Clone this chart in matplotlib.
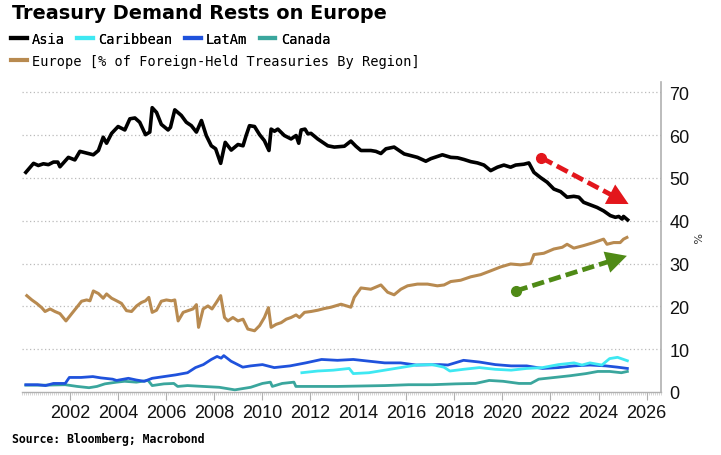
import numpy as np
import matplotlib
matplotlib.use('Agg')
import matplotlib.pyplot as plt
from matplotlib import font_manager
from matplotlib.lines import Line2D
from matplotlib.patches import Polygon

# donnees (annee decimale, % des treasuries detenus a l'etranger)
asia_t = [2000.16, 2000.48, 2000.68, 2000.89, 2001.10, 2001.31, 2001.49, 2001.58, 2001.93, 2002.20,
          2002.41, 2002.76, 2002.97, 2003.18, 2003.38, 2003.52, 2003.73, 2004.00, 2004.28, 2004.49,
          2004.70, 2004.90, 2005.14, 2005.32, 2005.42, 2005.60, 2005.80, 2006.08, 2006.18, 2006.36,
          2006.63, 2006.84, 2007.05, 2007.26, 2007.47, 2007.67, 2007.88, 2008.06, 2008.27, 2008.46,
          2008.71, 2008.99, 2009.20, 2009.33, 2009.47, 2009.68, 2009.89, 2010.09, 2010.28, 2010.37,
          2010.51, 2010.65, 2010.92, 2011.20, 2011.41, 2011.52, 2011.62, 2011.78, 2011.90, 2012.03,
          2012.31, 2012.73, 2013.00, 2013.42, 2013.69, 2013.90, 2014.11, 2014.52, 2014.73, 2014.94,
          2015.15, 2015.49, 2015.70, 2015.91, 2016.19, 2016.46, 2016.81, 2017.02, 2017.50, 2017.85,
          2018.13, 2018.40, 2018.68, 2018.96, 2019.23, 2019.51, 2019.79, 2020.06, 2020.34, 2020.55,
          2020.89, 2021.10, 2021.31, 2021.58, 2021.86, 2022.14, 2022.42, 2022.69, 2022.97, 2023.18,
          2023.38, 2023.66, 2023.94, 2024.21, 2024.49, 2024.70, 2024.84, 2024.98, 2025.04, 2025.21]
asia_v = [51.3, 53.4, 52.9, 53.3, 53.1, 53.7, 53.7, 52.6, 54.8, 54.2,
          56.2, 55.7, 55.4, 56.4, 59.5, 58.1, 60.4, 62.0, 61.2, 63.8,
          64.0, 63.0, 60.1, 60.7, 66.4, 65.3, 62.5, 61.2, 61.8, 65.9,
          64.6, 63.0, 62.2, 60.7, 63.4, 59.9, 57.5, 56.8, 53.4, 58.3,
          56.5, 57.8, 57.5, 59.9, 62.2, 62.0, 60.1, 58.7, 56.4, 61.4,
          60.9, 61.4, 59.9, 59.1, 59.9, 58.1, 61.2, 61.4, 60.3, 60.4,
          59.1, 57.5, 57.2, 57.4, 58.6, 57.4, 56.4, 56.4, 56.2, 55.7,
          56.8, 57.2, 56.4, 55.6, 55.2, 54.8, 53.9, 54.5, 55.4, 54.8,
          54.7, 54.3, 53.8, 53.5, 53.0, 51.7, 52.5, 53.0, 52.5, 53.0,
          53.2, 53.5, 51.3, 50.1, 49.0, 47.4, 46.8, 45.5, 45.7, 45.5,
          44.3, 43.7, 43.1, 42.3, 41.2, 40.8, 41.0, 40.4, 41.0, 40.2]

europe_t = [2000.20, 2000.41, 2000.61, 2000.82, 2000.96, 2001.17, 2001.37, 2001.58, 2001.83, 2002.07,
            2002.27, 2002.48, 2002.69, 2002.83, 2002.97, 2003.18, 2003.38, 2003.52, 2003.73, 2003.94,
            2004.14, 2004.35, 2004.56, 2004.77, 2004.97, 2005.14, 2005.28, 2005.42, 2005.60, 2005.80,
            2006.01, 2006.22, 2006.36, 2006.50, 2006.71, 2006.91, 2007.12, 2007.26, 2007.35, 2007.54,
            2007.74, 2007.91, 2008.09, 2008.27, 2008.43, 2008.57, 2008.78, 2008.99, 2009.20, 2009.40,
            2009.68, 2009.89, 2010.09, 2010.26, 2010.37, 2010.58, 2010.79, 2011.00, 2011.20, 2011.41,
            2011.55, 2011.76, 2012.03, 2012.31, 2012.59, 2012.86, 2013.28, 2013.69, 2013.83, 2014.11,
            2014.52, 2014.94, 2015.22, 2015.49, 2015.77, 2016.05, 2016.46, 2016.88, 2017.29, 2017.57,
            2017.85, 2018.26, 2018.68, 2019.09, 2019.51, 2019.92, 2020.34, 2020.75, 2021.17, 2021.31,
            2021.72, 2022.14, 2022.49, 2022.69, 2022.97, 2023.38, 2023.80, 2024.21, 2024.35, 2024.63,
            2024.90, 2025.04, 2025.18]
europe_v = [22.5, 21.5, 20.7, 19.7, 18.8, 19.4, 18.8, 18.3, 16.6, 18.3,
            19.7, 21.2, 21.5, 21.3, 23.6, 23.0, 21.9, 22.9, 21.9, 21.3,
            20.7, 19.0, 18.8, 20.1, 20.9, 21.3, 22.1, 18.6, 19.1, 21.2,
            21.5, 21.3, 21.5, 16.6, 18.6, 19.0, 19.4, 20.4, 15.1, 19.4,
            20.1, 19.4, 20.9, 22.5, 17.4, 16.6, 17.4, 16.6, 17.0, 14.7,
            14.3, 15.5, 17.4, 19.7, 15.1, 15.8, 16.2, 17.0, 17.4, 18.0,
            17.4, 18.6, 18.8, 19.1, 19.5, 19.8, 20.5, 19.8, 22.1, 24.3,
            24.0, 25.0, 23.3, 22.7, 24.0, 24.8, 25.2, 25.2, 24.8, 25.0,
            25.8, 26.1, 26.9, 27.4, 28.3, 29.2, 29.9, 29.7, 30.0, 32.1,
            32.4, 33.4, 33.8, 34.5, 33.6, 34.2, 34.9, 35.7, 34.5, 34.9,
            34.9, 35.7, 36.1]

latam_t = [2000.16, 2000.65, 2000.98, 2001.31, 2001.80, 2001.97, 2002.46, 2002.95, 2003.28, 2003.77,
           2003.94, 2004.43, 2004.76, 2005.09, 2005.42, 2005.91, 2006.40, 2006.89, 2007.22, 2007.55,
           2007.88, 2008.12, 2008.29, 2008.40, 2008.70, 2009.19, 2009.52, 2010.01, 2010.50, 2011.16,
           2011.81, 2012.47, 2013.13, 2013.79, 2014.44, 2015.10, 2015.76, 2016.41, 2017.40, 2017.73,
           2018.38, 2019.04, 2019.70, 2020.36, 2021.01, 2021.67, 2022.33, 2022.98, 2023.64, 2024.30,
           2024.79, 2025.20]
latam_v = [1.7, 1.7, 1.5, 2.0, 2.0, 3.4, 3.4, 3.6, 3.3, 3.0,
           2.7, 3.2, 2.8, 2.5, 3.2, 3.6, 4.0, 4.5, 5.7, 6.4,
           7.6, 8.3, 7.9, 8.5, 7.2, 5.8, 6.1, 6.4, 5.7, 6.1,
           6.8, 7.6, 7.4, 7.6, 7.2, 6.8, 6.8, 6.3, 6.4, 6.3,
           7.4, 7.0, 6.4, 6.1, 6.1, 5.5, 5.7, 6.1, 6.3, 6.1,
           5.8, 5.5]

carib_t = [2011.65, 2012.31, 2012.96, 2013.62, 2013.79, 2014.44, 2015.10, 2015.76, 2016.41, 2017.07,
           2017.56, 2017.81, 2018.38, 2019.04, 2019.70, 2020.36, 2021.01, 2021.67, 2022.33, 2022.98,
           2023.31, 2023.64, 2024.14, 2024.46, 2024.79, 2025.20]
carib_v = [4.5, 4.9, 5.1, 5.5, 4.3, 4.5, 5.1, 5.7, 6.3, 6.4,
           5.8, 4.9, 5.3, 5.7, 5.3, 5.1, 5.5, 5.7, 6.4, 6.8,
           6.3, 6.8, 6.3, 7.8, 8.1, 7.3]

canada_t = [2000.16, 2000.98, 2001.80, 2002.30, 2002.79, 2003.12, 2003.45, 2003.94, 2004.27, 2004.76,
            2005.25, 2005.42, 2005.91, 2006.32, 2006.48, 2006.89, 2007.55, 2008.21, 2008.86, 2009.52,
            2010.01, 2010.34, 2010.42, 2010.83, 2011.32, 2011.40, 2012.14, 2013.13, 2014.11, 2015.10,
            2016.09, 2017.07, 2018.05, 2018.88, 2019.45, 2020.03, 2020.69, 2021.18, 2021.51, 2022.17,
            2022.82, 2023.48, 2023.97, 2024.46, 2024.95, 2025.20]
canada_v = [1.6, 1.6, 1.7, 1.3, 1.0, 1.3, 1.9, 2.3, 2.5, 2.3,
            2.7, 1.5, 1.9, 2.0, 1.3, 1.5, 1.3, 1.1, 0.5, 1.1,
            2.0, 2.3, 1.3, 2.0, 2.3, 1.3, 1.3, 1.3, 1.4, 1.5,
            1.7, 1.7, 1.9, 2.0, 2.7, 2.5, 2.0, 2.0, 3.0, 3.4,
            3.8, 4.3, 4.8, 4.8, 4.5, 4.8]

# fleches (debut, pointe)
red_arrow = [(2021.62, 54.7), (2025.25, 43.9)]
green_arrow = [(2020.55, 23.6), (2025.18, 31.8)]

xticks = list(range(2002, 2027, 2))
yticks = [0, 10, 20, 30, 40, 50, 60, 70]

# police etroite pour les graduations si elle existe, sinon Liberation Sans
tick_fp = None
for f in font_manager.fontManager.ttflist:
    if 'LiberationSansNarrow-Regular' in f.fname:
        tick_fp = font_manager.FontProperties(fname=f.fname, size=15)
        break
if tick_fp is None:
    tick_fp = font_manager.FontProperties(family='Liberation Sans', size=13)

fig = plt.figure(figsize=(7.21, 4.56), dpi=100)
ax = fig.add_axes([22/721, 1-393/456, (661-22)/721, (393-83)/456])

c_asia, c_carib, c_latam, c_canada, c_europe = '#000000', '#3ee8f2', '#1f52dc', '#3aa69d', '#b88a50'

ax.plot(canada_t, canada_v, color=c_canada, lw=2.0, solid_joinstyle='round')
ax.plot(latam_t, latam_v, color=c_latam, lw=2.0, solid_joinstyle='round')
ax.plot(carib_t, carib_v, color=c_carib, lw=2.0, solid_joinstyle='round')
ax.plot(europe_t, europe_v, color=c_europe, lw=2.2, solid_joinstyle='round')
ax.plot(asia_t, asia_v, color=c_asia, lw=2.6, solid_joinstyle='round')

ax.set_xlim(2000.07, 2026.60)
ax.set_ylim(0, 72.4)

# fleches en pointilles, tete calculee en pixels
to_px = ax.transData
to_data = ax.transData.inverted()
for (p0, p1), col in ((red_arrow, '#e3161c'), (green_arrow, '#4f8a16')):
    a = np.array(to_px.transform(p0))
    b = np.array(to_px.transform(p1))
    u = (b - a) / np.hypot(*(b - a))
    n = np.array([-u[1], u[0]])
    base = b - 21*u
    tri = to_data.transform([b, base + 11*n, base - 11*n])
    cut = to_data.transform([base + 3*u])[0]
    ax.plot([p0[0], cut[0]], [p0[1], cut[1]], color=col, lw=3.4, dashes=(2.6, 1.1), zorder=5)
    ax.plot([p0[0]], [p0[1]], 'o', color=col, ms=7, zorder=6)
    ax.add_patch(Polygon(tri, closed=True, color=col, lw=0, zorder=6))

ax.set_xticks(xticks)
ax.set_xticks(np.arange(2000.0, 2026.6, 1/12), minor=True)
ax.set_yticks(yticks)
ax.yaxis.tick_right()
ax.yaxis.set_label_position('right')
ax.set_ylabel('%', rotation=270, fontsize=8, labelpad=8, color='#333333')

for s in ('top', 'left'):
    ax.spines[s].set_visible(False)
ax.spines['right'].set_color('#b0b0b0')
ax.spines['bottom'].set_color('#b0b0b0')
ax.spines['right'].set_linewidth(1.2)
ax.spines['bottom'].set_linewidth(1.0)

ax.tick_params(axis='x', which='major', length=6, color='#b0b0b0', pad=3)
ax.tick_params(axis='x', which='minor', length=2, color='#c8c8c8', width=0.5)
ax.tick_params(axis='y', length=0, pad=6)
for lab in ax.get_xticklabels() + ax.get_yticklabels():
    lab.set_fontproperties(tick_fp)
    lab.set_color('#111111')

for v in yticks[1:]:
    ax.axhline(v, color='#bbbbbb', lw=0.9, ls=(0, (1, 2)), zorder=0)

# titre, legende, source
fig.text(12/721, 1-4/456, 'Treasury Demand Rests on Europe', fontsize=13.9,
         fontweight='bold', va='top', ha='left', family='DejaVu Sans')

mono = dict(family='DejaVu Sans Mono', size=9.8)
h1 = [Line2D([], [], color=c, lw=3) for c in (c_asia, c_carib, c_latam, c_canada)]
leg1 = fig.legend(h1, ['Asia', 'Caribbean', 'LatAm', 'Canada'], ncol=4, loc='upper left',
                  bbox_to_anchor=(11/721, 1-33/456), frameon=False, prop=mono,
                  handlelength=1.15, handletextpad=0.4, columnspacing=0.9,
                  borderaxespad=0, borderpad=0)
leg2 = fig.legend([Line2D([], [], color=c_europe, lw=3)],
                  ['Europe [% of Foreign-Held Treasuries By Region]'], loc='upper left',
                  bbox_to_anchor=(11/721, 1-55/456), frameon=False, prop=mono,
                  handlelength=1.15, handletextpad=0.4, borderaxespad=0, borderpad=0)
fig.add_artist(leg1)

fig.text(12/721, 1-433/456, 'Source: Bloomberg; Macrobond', fontsize=8.3,
         fontweight='bold', va='top', ha='left', family='DejaVu Sans Mono')

fig.savefig('out.png', dpi=100)
